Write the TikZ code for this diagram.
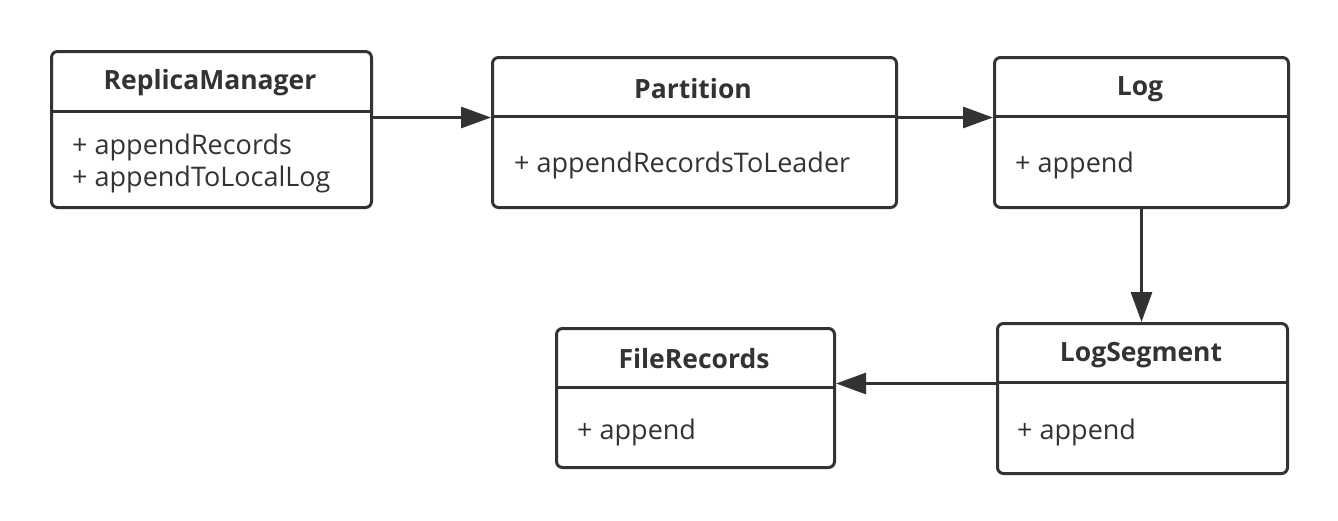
\documentclass[tikz,border=0pt]{standalone}
\usepackage{fontspec}
\setmainfont{Open Sans}
\usetikzlibrary{arrows.meta}
\definecolor{ink}{HTML}{333333}
\begin{document}
\begin{tikzpicture}[x=1pt,y=-1pt,
  cls/.style={draw=ink, line width=3pt, rounded corners=6pt, inner sep=0pt, anchor=north west, fill=white},
  divl/.style={draw=ink, line width=3pt},
  ttl/.style={font=\bfseries\fontsize{26.5}{30}\selectfont, text=ink},
  mem/.style={font=\fontsize{27}{32}\selectfont, text=ink, anchor=west, align=left, inner sep=0pt},
  conn/.style={draw=ink, line width=3pt, -{Triangle[length=30pt,width=21pt]}}]
\useasboundingbox (0,0) rectangle (1338,520);
% boxes
\node[cls, minimum width=320pt, minimum height=156pt] (rm) at (50,50) {};
\node[cls, minimum width=404pt, minimum height=150pt] (pt) at (491,56) {};
\node[cls, minimum width=294pt, minimum height=150pt] (lg) at (993,56) {};
\node[cls, minimum width=290pt, minimum height=150pt] (ls) at (996,322) {};
\node[cls, minimum width=278pt, minimum height=139pt] (fr) at (555,327) {};
% dividers
\draw[divl] (rm.north west) ++(0,61) -- ++(320,0);
\draw[divl] (pt.north west) ++(0,60) -- ++(404,0);
\draw[divl] (lg.north west) ++(0,60) -- ++(294,0);
\draw[divl] (ls.north west) ++(0,60) -- ++(290,0);
\draw[divl] (fr.north west) ++(0,60) -- ++(278,0);
% titles
\node[ttl] (rmt) at (210,83) {ReplicaManager};
\node[ttl] (ptt) at (693,89) {Partition};
\node[ttl] (lgt) at (1140,89) {Log};
\node[ttl] (lst) at (1141,355) {LogSegment};
\node[ttl] (frt) at (694,359) {FileRecords};
% members
\node[mem] (rmm) at (72,163) {+ appendRecords\\+ appendToLocalLog};
\node[mem] (ptm) at (514,165) {+ appendRecordsToLeader};
\node[mem] (lgm) at (1015,165) {+ append};
\node[mem] (lsm) at (1017,432) {+ append};
\node[mem] (frm) at (577,432) {+ append};
% connectors
\path ([yshift=15pt]pt.west) coordinate (pin);
\draw[conn] (rm.east |- pin) -- (pin);
\draw[conn] ([yshift=15pt]pt.east) -- ([yshift=15pt]lg.west);
\draw[conn] (lg.south) -- (lg.south |- ls.north);
\path ([yshift=15pt]ls.west) coordinate (lsout);
\draw[conn] (lsout) -- (fr.east |- lsout);
\end{tikzpicture}
\end{document}
